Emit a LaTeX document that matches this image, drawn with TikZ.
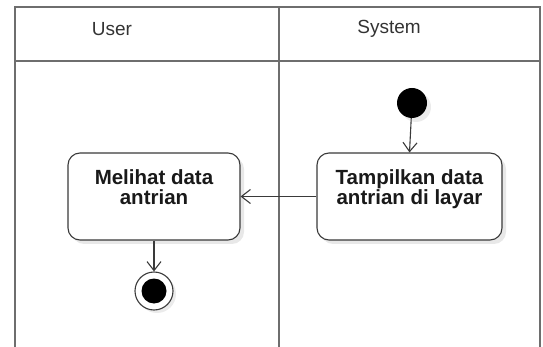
\documentclass[tikz,border=0pt]{standalone}
\usepackage{fontspec}
\setmainfont{Liberation Sans}
\usetikzlibrary{arrows.meta,shadows}
\definecolor{lanecol}{HTML}{6E6E6E}
\definecolor{boxcol}{HTML}{3A3A3A}
\begin{document}
\begin{tikzpicture}[x=1pt,y=-1pt,
  lane/.style={draw=lanecol,line width=1.6pt},
  actbox/.style={draw=boxcol,line width=1.1pt,fill=white,rounded corners=12pt,inner sep=0pt,
    drop shadow={shadow xshift=4pt,shadow yshift=-4pt,fill=black!9,opacity=1}},
  acttext/.style={anchor=north,inner sep=0pt,align=center,text=black!90,
    font=\fontsize{20.5pt}{20.5pt}\selectfont\bfseries},
  lanetext/.style={inner sep=0pt,text=black!80,font=\fontsize{19pt}{22pt}\selectfont},
  flow/.style={draw=boxcol,line width=1.1pt,-{Straight Barb[length=9pt,width=14pt,line width=1.1pt]}},
  startnode/.style={circle,fill=black,inner sep=0pt,minimum size=30pt,
    drop shadow={shadow xshift=4pt,shadow yshift=-4pt,fill=black!8,opacity=1}},
  endouter/.style={circle,draw=boxcol,line width=1.1pt,fill=white,inner sep=0pt,minimum size=38pt,
    drop shadow={shadow xshift=3pt,shadow yshift=-3pt,fill=black!8,opacity=1}},
  endinner/.style={circle,fill=black,inner sep=0pt,minimum size=25pt}]
\useasboundingbox (0,0) rectangle (543,347);
% swimlane frame
\draw[lane] (15,347) -- (15,7) -- (540,7) -- (540,347);
\draw[lane] (15,61) -- (540,61);
\draw[lane] (279,7) -- (279,347);
\node[lanetext] (userlbl) at (112,29) {User};
\node[lanetext] (syslbl) at (389,29) {System};
% nodes
\node[startnode] (start) at (412,103) {};
\node[actbox,minimum width=185pt,minimum height=87pt] (tampil) at (409.5,196.5) {};
\node[acttext] (tampilt) at (409.5,169) {Tampilkan data\\antrian di layar};
\node[actbox,minimum width=172pt,minimum height=87pt] (melihat) at (154,196.5) {};
\node[acttext] (melihatt) at (154,169) {Melihat data\\antrian};
\node[endouter] (end) at (154,291) {};
\node[endinner] (endin) at (end.center) {};
% flows
\draw[flow] (start) -- (tampil.north);
\draw[flow] (tampil.west) -- (melihat.east);
\draw[flow] (melihat.south) -- (end.north);
\end{tikzpicture}
\end{document}
